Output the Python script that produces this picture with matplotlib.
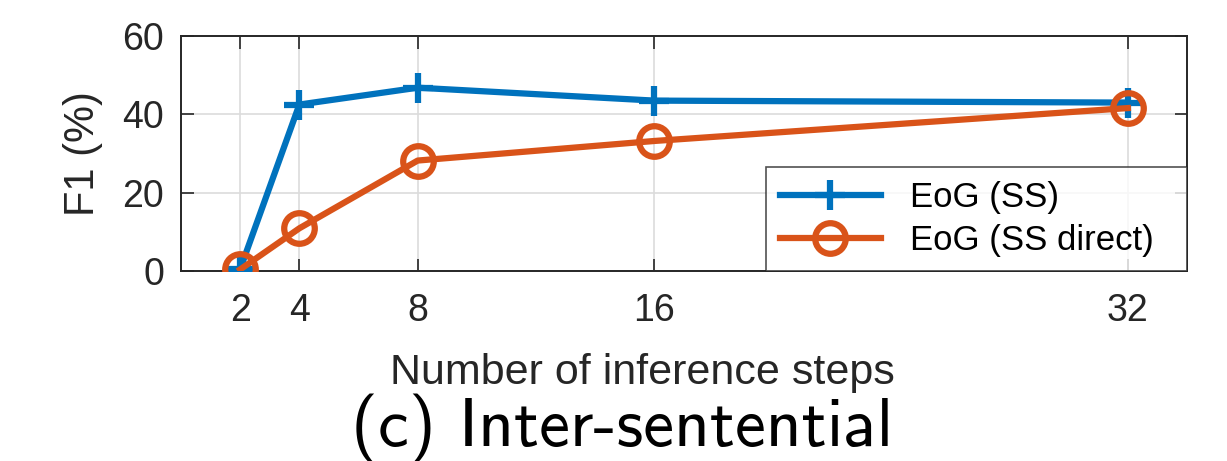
import matplotlib
matplotlib.use("Agg")
import matplotlib.pyplot as plt

steps = [2, 4, 8, 16, 32]
eog_ss = [0.5, 42.5, 46.8, 43.5, 43.0]
eog_ss_direct = [0.4, 10.9, 28.2, 33.2, 41.6]
xticks = [2, 4, 8, 16, 32]
yticks = [0, 20, 40, 60]

plt.rcParams['font.family'] = ['Liberation Sans', 'DejaVu Sans']

fig = plt.figure(figsize=(12.27, 4.61), dpi=100)
ax = fig.add_axes([181/1227, 1-271/461, (1187-181)/1227, (271-36)/461])

blue = '#0072BD'
orange = '#D95319'
ax.plot(steps, eog_ss, color=blue, lw=4.5, marker='+', ms=22, mew=4.5, label='EoG (SS)', zorder=3)
ax.plot(steps, eog_ss_direct, color=orange, lw=4.5, marker='o', ms=22, mew=4.5,
        mfc='none', label='EoG (SS direct)', zorder=3)

ax.set_xlim(0, 34)
ax.set_ylim(0, 60)
ax.set_xticks(xticks)
ax.set_yticks(yticks)
ax.grid(True, color='#dcdcdc', lw=1.2)
ax.set_axisbelow(True)
ax.tick_params(direction='in', length=9, width=1.2, top=True, right=True,
               labelsize=27, colors='#262626')
ax.tick_params(axis='x', pad=16)
ax.tick_params(axis='y', pad=12)
for s in ax.spines.values():
    s.set_color('#262626')
    s.set_linewidth(1.4)

ax.set_xlabel('Number of inference steps', fontsize=31, color='#262626', labelpad=14)
ax.xaxis.set_label_coords(0.459, -0.35)
ax.set_ylabel('F1 (%)', fontsize=30, color='#262626', labelpad=14)

leg = ax.legend(loc='lower left', bbox_to_anchor=(0.5815, 0.0, 0.4185, 0.4),
                mode='expand', borderaxespad=0, fontsize=25, frameon=True,
                fancybox=False, handlelength=2.9, borderpad=0.4, labelspacing=0.3,
                handletextpad=0.85)
leg.get_frame().set_edgecolor('#262626')
leg.get_frame().set_linewidth(1.2)

fig.text(0.507, -0.004, '(c) Inter-sentential', ha='center', va='bottom', fontsize=50,
         family=['cmss10', 'DejaVu Sans'])

fig.savefig('out.png', dpi=100)
